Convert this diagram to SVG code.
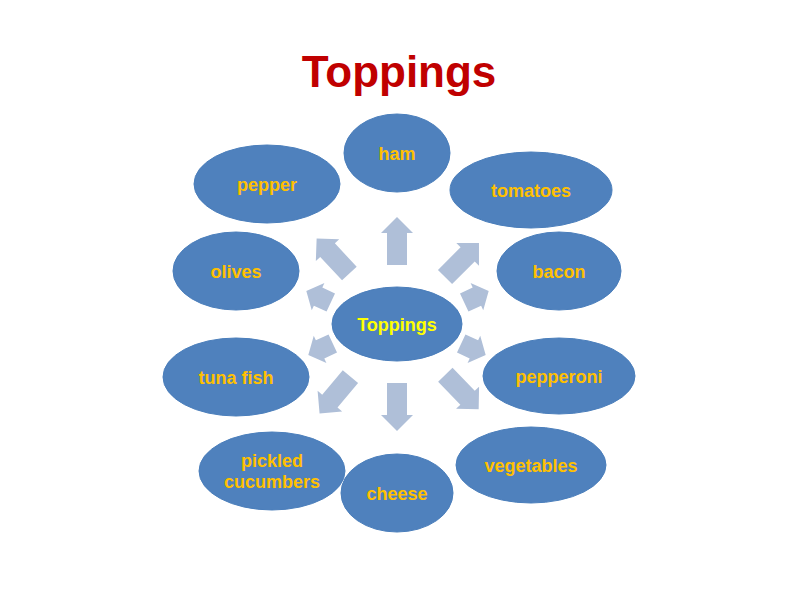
<svg xmlns="http://www.w3.org/2000/svg" width="800" height="600" viewBox="0 0 800 600">
<defs>
<style>
.node ellipse{fill:#4F81BD;stroke:#4A7EBB;stroke-width:1}
.node text{font-family:"Liberation Sans",Arial,sans-serif;font-weight:bold;font-size:18px;fill:#FFC000;text-anchor:middle}
.node.center text{fill:#FFFF00}
.arrow{fill:#AFBFD8}
.title{font-family:"Liberation Sans",Arial,sans-serif;font-weight:bold;font-size:44px;fill:#C00000;text-anchor:middle}
</style>
<path id="big" d="M-24,-10 L8,-10 L8,-16 L24,0 L8,16 L8,10 L-24,10 Z"/>
<path id="small" d="M-13,-10 L1,-10 L1,-15 L14,0 L1,15 L1,10 L-13,10 Z"/>
</defs>
<rect width="800" height="600" fill="#FFFFFF"/>
<text class="title" x="399" y="87">Toppings</text>

<g id="connectors">
<use href="#big" class="arrow" transform="translate(397,241) rotate(-90)"/>
<use href="#big" class="arrow" transform="translate(397,407) rotate(90)"/>
<use href="#big" class="arrow" transform="translate(333,256) rotate(-133)"/>
<use href="#big" class="arrow" transform="translate(462,260) rotate(-45)"/>
<use href="#big" class="arrow" transform="translate(335,395) rotate(130)"/>
<use href="#big" class="arrow" transform="translate(462,392) rotate(46)"/>
<use href="#small" class="arrow" transform="translate(319,297) rotate(205)"/>
<use href="#small" class="arrow" transform="translate(321,349) rotate(155)"/>
<use href="#small" class="arrow" transform="translate(476,297) rotate(-25)"/>
<use href="#small" class="arrow" transform="translate(473,349) rotate(25)"/>
</g>

<g id="node-center" class="node center"><ellipse cx="397" cy="324" rx="65" ry="37"/><text x="397" y="331">Toppings</text></g>
<g id="node-ham" class="node"><ellipse cx="397" cy="153" rx="53" ry="39"/><text x="397" y="160">ham</text></g>
<g id="node-tomatoes" class="node"><ellipse cx="531" cy="190" rx="81" ry="38"/><text x="531" y="197">tomatoes</text></g>
<g id="node-bacon" class="node"><ellipse cx="559" cy="271" rx="62" ry="39"/><text x="559" y="278">bacon</text></g>
<g id="node-pepperoni" class="node"><ellipse cx="559" cy="376" rx="76" ry="38"/><text x="559" y="383">pepperoni</text></g>
<g id="node-vegetables" class="node"><ellipse cx="531" cy="465" rx="75" ry="38"/><text x="531" y="472">vegetables</text></g>
<g id="node-cheese" class="node"><ellipse cx="397" cy="493" rx="56" ry="39"/><text x="397" y="500">cheese</text></g>
<g id="node-pickled" class="node"><ellipse cx="272" cy="471" rx="73" ry="39"/><text x="272" y="467">pickled</text><text x="272" y="488">cucumbers</text></g>
<g id="node-tuna" class="node"><ellipse cx="236" cy="377" rx="73" ry="39"/><text x="236" y="384">tuna fish</text></g>
<g id="node-olives" class="node"><ellipse cx="236" cy="271" rx="63" ry="39"/><text x="236" y="278">olives</text></g>
<g id="node-pepper" class="node"><ellipse cx="267" cy="184" rx="73" ry="39"/><text x="267" y="191">pepper</text></g>
</svg>
